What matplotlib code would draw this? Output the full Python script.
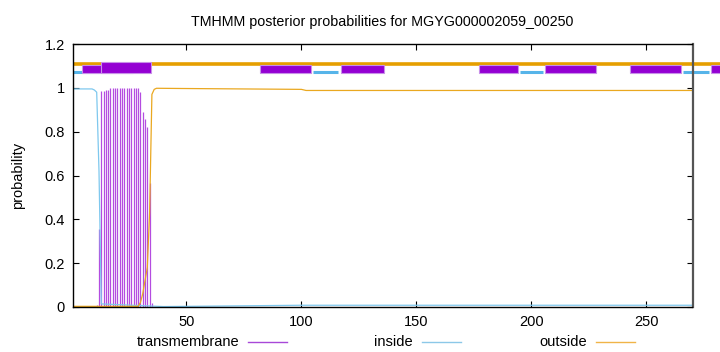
import matplotlib
matplotlib.use("Agg")
import matplotlib.pyplot as plt
from matplotlib.lines import Line2D
from matplotlib.patches import Rectangle

plt.rcParams['font.family'] = ['Liberation Sans', 'DejaVu Sans']

# ---- data ----
title = "TMHMM posterior probabilities for MGYG000002059_00250"

# transmembrane posterior (impulses per residue)
tm_pos = [11, 12, 13, 14, 15, 16, 17, 18, 19, 20, 21, 22, 23, 24, 25, 26, 27, 28, 29,
          30, 31, 32, 33, 34, 35]
tm_val = [0.01, 0.356, 0.986, 0.986, 0.99, 0.99, 1.0, 1.0, 1.0, 1.0, 1.0, 1.0, 1.0, 1.0,
          1.0, 1.0, 1.0, 1.0, 1.0, 0.98, 0.89, 0.86, 0.82, 0.566, 0.02]

# inside posterior
in_x = [1, 9, 10, 11, 12, 13, 40, 60, 100, 270]
in_y = [0.995, 0.995, 0.99, 0.98, 0.62, 0.014, 0.002, 0.004, 0.008, 0.008]

# outside posterior
out_x = [1, 29, 30, 31, 32, 33, 34, 35, 36, 37, 48, 100, 102, 270]
out_y = [0.003, 0.003, 0.02, 0.06, 0.12, 0.18, 0.43, 0.97, 0.993, 0.998, 0.997,
         0.993, 0.988, 0.988]

# predicted topology bars at the top
tm_seg_start = [4.8, 12.7, 82, 117, 177, 206, 243, 278]
tm_seg_end = [26.7, 34.8, 104, 136, 194, 228, 265, 300]
tm_seg_top = [1.104, 1.116, 1.104, 1.104, 1.104, 1.104, 1.104, 1.104]
in_seg_start = [0.6, 105, 195, 266]
in_seg_end = [12, 116, 205, 277]

xticks = [50, 100, 150, 200, 250]
yticks = [0, 0.2, 0.4, 0.6, 0.8, 1, 1.2]
ytick_labels = ["0", "0.2", "0.4", "0.6", "0.8", "1", "1.2"]

c_tm = '#9400d3'
c_in = '#56b4e9'
c_out = '#e69f00'

fig = plt.figure(figsize=(7.2, 3.52), dpi=100)
ax = fig.add_axes([73/720, 1-307/352, (692.5-73)/720, (307-44)/352])

ax.set_xlim(0.7, 270)
ax.set_ylim(0, 1.2)

# posterior curves
ax.vlines(tm_pos, 0, tm_val, color=c_tm, lw=0.9, alpha=0.7, zorder=3)
ax.plot(in_x, in_y, color='#7ec8ee', lw=0.9, zorder=4)
ax.plot(out_x, out_y, color='#eaa820', lw=0.9, zorder=4)

# topology bars (not clipped, run past the right border like the reference)
ax.plot([0.7, 300], [1.11, 1.11], color=c_out, lw=2.6, clip_on=False,
        solid_capstyle='butt', zorder=5)
for s, e, t in zip(tm_seg_start, tm_seg_end, tm_seg_top):
    r = Rectangle((s, 1.066), e - s, t - 1.066, facecolor=c_tm,
                  edgecolor='#c890e8', lw=0.8, clip_on=False, zorder=6)
    ax.add_patch(r)
for s, e in zip(in_seg_start, in_seg_end):
    ax.plot([s, e], [1.072, 1.072], color=c_in, lw=2.2, clip_on=False,
            solid_capstyle='butt', zorder=5)

ax.set_xticks(xticks)
ax.set_yticks(yticks)
ax.set_yticklabels(ytick_labels)
ax.tick_params(direction='in', top=True, right=True, length=4, width=0.8,
               labelsize=10.5, colors='black', pad=6)
for sp in ax.spines.values():
    sp.set_linewidth(1.0)
    sp.set_zorder(7)
ax.spines['right'].set_color('#555555')
ax.spines['right'].set_linewidth(1.6)

ax.set_ylabel("probability", fontsize=10.5, labelpad=14)
fig.text(382.5/720, 1-22/352, title, ha='center', va='center', fontsize=10.3)

# legend along the bottom
ly = 1 - 342/352
items = [("transmembrane", 239, 248, 287, '#a848d8'),
         ("inside", 413, 422, 461, '#8cc8e8'),
         ("outside", 587, 596, 635, '#f0b448')]
for label, tx, l0, l1, col in items:
    fig.text(tx/720, ly, label, ha='right', va='center', fontsize=10.5)
    fig.add_artist(Line2D([l0/720, l1/720], [ly, ly], color=col, lw=1.0,
                          transform=fig.transFigure))

fig.savefig("out.png", dpi=100)
